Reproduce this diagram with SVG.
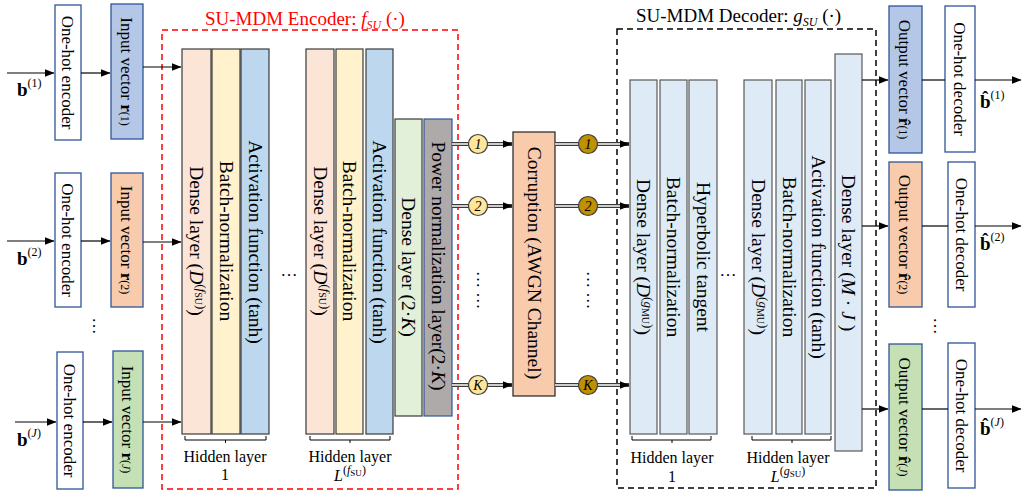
<svg xmlns="http://www.w3.org/2000/svg" width="1022" height="493" viewBox="0 0 1022 493">
<defs>
<marker id="ah" markerWidth="10" markerHeight="8" refX="9.5" refY="4" orient="auto" markerUnits="userSpaceOnUse">
<path d="M0,0 L10,4 L0,8 z" fill="#000"/>
</marker>
<style>
text{font-family:"Liberation Serif","DejaVu Serif",serif}
.t17{font-size:17px;text-anchor:middle}
.lay{font-size:19.5px;text-anchor:middle}
.hl{font-size:16px;text-anchor:middle}
.box{stroke:#2f5597;stroke-width:1.3}
.l{stroke:#000;stroke-width:1.2;fill:none}
.enc{stroke:#3a3a3a;stroke-width:1.2}
.dec{fill:#deebf7;stroke:#595959;stroke-width:1.2}
.i{font-style:italic}
.b{font-weight:bold}
.dbl{stroke:#3a3a3a;stroke-width:4;fill:none}
.dblw{stroke:#fff;stroke-width:1.3;fill:none}
.br{stroke:#000;stroke-width:1;fill:none}
.c1{fill:#ffe699;stroke:#404040;stroke-width:1.2}
.c2{fill:#bf9000;stroke:#404040;stroke-width:1.2}
.ct{font-size:14px;font-style:italic;text-anchor:middle}
</style>
</defs>
<rect width="1022" height="493" fill="#fff"/>

<!-- input side -->
<g id="enc1"><rect x="55" y="5" width="26" height="135" fill="#fff" class="box"/><text class="t17" transform="translate(62.4,72.5) rotate(90)">One-hot encoder</text></g>
<g id="in1"><rect x="111" y="4" width="32" height="135" fill="#b4c7e7" class="box"/><text class="t17" transform="translate(121.4,71.5) rotate(90)">Input vector <tspan class="b">r</tspan><tspan font-size="12">(1)</tspan></text></g>
<g id="enc2"><rect x="55" y="173" width="26" height="134" fill="#fff" class="box"/><text class="t17" transform="translate(62.4,240) rotate(90)">One-hot encoder</text></g>
<g id="in2"><rect x="111" y="173" width="32" height="134" fill="#f8cbad" class="box"/><text class="t17" transform="translate(121.4,240) rotate(90)">Input vector <tspan class="b">r</tspan><tspan font-size="12">(2)</tspan></text></g>
<g id="encJ"><rect x="57" y="352" width="26" height="137" fill="#fff" class="box"/><text class="t17" transform="translate(64.4,420.5) rotate(90)">One-hot encoder</text></g>
<g id="inJ"><rect x="113" y="351" width="30" height="137" fill="#c5e0b4" class="box"/><text class="t17" transform="translate(122.4,419.5) rotate(90)">Input vector <tspan class="b">r</tspan><tspan font-size="12">(<tspan class="i">J</tspan>)</tspan></text></g>
<g id="lbl-in">
<text x="17" y="96" font-size="19" class="b">b<tspan font-size="12" font-weight="normal" dy="-9">(1)</tspan></text>
<text x="17" y="265" font-size="19" class="b">b<tspan font-size="12" font-weight="normal" dy="-9">(2)</tspan></text>
<text x="17" y="446" font-size="19" class="b">b<tspan font-size="12" font-weight="normal" dy="-9">(<tspan class="i">J</tspan>)</tspan></text>
<text font-size="17" text-anchor="middle" transform="translate(93,326) rotate(90)">…</text>
</g>

<!-- encoder -->
<g id="encoder">
<rect x="162" y="30" width="296" height="459" fill="none" stroke="#ff0000" stroke-width="1.5" stroke-dasharray="6,4"/>
<text x="205" y="25" font-size="19" fill="#ff0000">SU-MDM Encoder: <tspan class="i">f</tspan><tspan class="i" font-size="12" dy="4">SU</tspan><tspan dy="-4"> (·)</tspan></text>
</g>
<g id="enc-h1">
<rect x="182" y="49" width="29" height="385" fill="#fbe5d6" class="enc"/>
<rect x="212" y="49" width="28" height="385" fill="#fff2cc" class="enc"/>
<rect x="241" y="49" width="28" height="385" fill="#bdd7ee" class="enc"/>
<text class="lay" transform="translate(190.2,241) rotate(90)">Dense layer (<tspan class="i">D</tspan><tspan font-size="13" dy="-7">(<tspan class="i">f</tspan><tspan font-size="10" dy="2">SU</tspan><tspan dy="-2">)</tspan></tspan><tspan dy="7">)</tspan></text>
<text class="lay" transform="translate(219.7,241) rotate(90)">Batch-normalization</text>
<text class="lay" transform="translate(248.7,242) rotate(90)">Activation function (tanh)</text>
<path class="br" d="M185,436 V440 H266 V436 M225.5,440 V443"/>
<text class="hl" x="225" y="462">Hidden layer</text>
<text class="hl" x="225" y="480">1</text>
</g>
<text font-size="17" text-anchor="middle" x="289" y="276">…</text>
<g id="enc-hL">
<rect x="306" y="49" width="28" height="385" fill="#fbe5d6" class="enc"/>
<rect x="336" y="49" width="27" height="385" fill="#fff2cc" class="enc"/>
<rect x="366" y="49" width="27" height="385" fill="#bdd7ee" class="enc"/>
<text class="lay" transform="translate(313.7,241) rotate(90)">Dense layer (<tspan class="i">D</tspan><tspan font-size="13" dy="-7">(<tspan class="i">f</tspan><tspan font-size="10" dy="2">SU</tspan><tspan dy="-2">)</tspan></tspan><tspan dy="7">)</tspan></text>
<text class="lay" transform="translate(343.2,241) rotate(90)">Batch-normalization</text>
<text class="lay" transform="translate(373.2,242) rotate(90)">Activation function (tanh)</text>
<path class="br" d="M310,436 V440 H390 V436 M350,440 V443"/>
<text class="hl" x="350" y="462">Hidden layer</text>
<text class="hl" x="350" y="481"><tspan class="i">L</tspan><tspan font-size="12" dy="-7">(<tspan class="i">f</tspan><tspan font-size="9" dy="2">SU</tspan><tspan dy="-2">)</tspan></tspan></text>
</g>
<g id="enc-dense2k">
<rect x="395" y="119" width="27" height="297" fill="#e2f0d9" class="enc"/>
<text class="lay" transform="translate(402.2,267) rotate(90)">Dense layer (2·<tspan class="i">K</tspan>)</text>
</g>
<g id="enc-power">
<rect x="424" y="119" width="28" height="297" fill="#aeaaaa" stroke="#2f5597" stroke-width="1.2"/>
<text class="lay" transform="translate(431.7,266) rotate(90)">Power normalization layer(2·<tspan class="i">K</tspan>)</text>
</g>

<!-- channel -->
<g id="corruption">
<rect x="513" y="132" width="42" height="264" fill="#f8cbad" stroke="#222" stroke-width="1.2"/>
<text class="lay" transform="translate(527.6,263) rotate(90)">Corruption (AWGN Channel)</text>
</g>

<!-- decoder -->
<g id="decoder">
<rect x="617" y="29" width="259" height="459" fill="none" stroke="#000" stroke-width="1.5" stroke-dasharray="6,4"/>
<text x="636" y="22" font-size="19">SU-MDM Decoder: <tspan class="i">g</tspan><tspan class="i" font-size="12" dy="4">SU</tspan><tspan dy="-4"> (·)</tspan></text>
</g>
<g id="dec-h1">
<rect x="630" y="80" width="27" height="354" class="dec"/>
<rect x="660" y="80" width="27" height="354" class="dec"/>
<rect x="689" y="80" width="28" height="354" class="dec"/>
<text class="lay" transform="translate(637.1,257) rotate(90)">Dense layer (<tspan class="i">D</tspan><tspan font-size="13" dy="-7">(<tspan class="i">g</tspan><tspan font-size="10" dy="2">MU</tspan><tspan dy="-2">)</tspan></tspan><tspan dy="7">)</tspan></text>
<text class="lay" transform="translate(667.1,257) rotate(90)">Batch-normalization</text>
<text class="lay" transform="translate(696.6,257) rotate(90)">Hyperbolic tangent</text>
<path class="br" d="M632,436 V440 H711 V436 M672,440 V443"/>
<text class="hl" x="672" y="463">Hidden layer</text>
<text class="hl" x="672" y="482">1</text>
</g>
<text font-size="17" text-anchor="middle" x="728" y="276">…</text>
<g id="dec-hL">
<rect x="744" y="80" width="28" height="354" class="dec"/>
<rect x="776" y="80" width="26" height="354" class="dec"/>
<rect x="805" y="80" width="26" height="354" class="dec"/>
<text class="lay" transform="translate(751.6,257) rotate(90)">Dense layer (<tspan class="i">D</tspan><tspan font-size="13" dy="-7">(<tspan class="i">g</tspan><tspan font-size="10" dy="2">MU</tspan><tspan dy="-2">)</tspan></tspan><tspan dy="7">)</tspan></text>
<text class="lay" transform="translate(782.6,257) rotate(90)">Batch-normalization</text>
<text class="lay" transform="translate(811.6,257) rotate(90)">Activation function (tanh)</text>
<path class="br" d="M752,436 V440 H831 V436 M792,440 V443"/>
<text class="hl" x="788" y="463">Hidden layer</text>
<text class="hl" x="788" y="482"><tspan class="i">L</tspan><tspan font-size="12" dy="-7">(<tspan class="i">g</tspan><tspan font-size="9" dy="2">SU</tspan><tspan dy="-2">)</tspan></tspan></text>
</g>
<g id="dec-densemj">
<rect x="835" y="54" width="27" height="397" class="dec"/>
<text class="lay" transform="translate(842.1,253) rotate(90)">Dense layer (<tspan class="i">M</tspan> · <tspan class="i">J</tspan> )</text>
</g>

<!-- output side -->
<g id="out1"><rect x="889" y="6" width="33" height="147" fill="#b4c7e7" class="box"/><text class="t17" transform="translate(899.1,79.5) rotate(90)">Output vector  <tspan class="b">r&#x302;</tspan><tspan font-size="12">(1)</tspan></text></g>
<g id="dec1"><rect x="945" y="6" width="30" height="146" fill="#fff" class="box"/><text class="t17" transform="translate(954.4,79) rotate(90)">One-hot decoder</text></g>
<g id="out2"><rect x="889" y="162" width="33" height="145" fill="#f8cbad" class="box"/><text class="t17" transform="translate(899.1,234.5) rotate(90)">Output vector  <tspan class="b">r&#x302;</tspan><tspan font-size="12">(2)</tspan></text></g>
<g id="dec2"><rect x="948" y="162" width="27" height="145" fill="#fff" class="box"/><text class="t17" transform="translate(955.9,234.5) rotate(90)">One-hot decoder</text></g>
<g id="outJ"><rect x="889" y="344" width="33" height="146" fill="#c5e0b4" class="box"/><text class="t17" transform="translate(899.1,417) rotate(90)">Output vector  <tspan class="b">r&#x302;</tspan><tspan font-size="12">(<tspan class="i">J</tspan>)</tspan></text></g>
<g id="decJ"><rect x="948" y="343" width="27" height="145" fill="#fff" class="box"/><text class="t17" transform="translate(955.9,415.5) rotate(90)">One-hot decoder</text></g>
<g id="lbl-out">
<text x="980" y="108" font-size="19" class="b">b&#x302;<tspan font-size="12" font-weight="normal" dy="-9">(1)</tspan></text>
<text x="980" y="250" font-size="19" class="b">b&#x302;<tspan font-size="12" font-weight="normal" dy="-9">(2)</tspan></text>
<text x="980" y="435" font-size="19" class="b">b&#x302;<tspan font-size="12" font-weight="normal" dy="-9">(<tspan class="i">J</tspan>)</tspan></text>
<text font-size="17" text-anchor="middle" transform="translate(934,326) rotate(90)">…</text>
</g>

<!-- connectors -->
<g id="connectors">
<line class="l" x1="7" y1="73" x2="54" y2="73" marker-end="url(#ah)"/>
<line class="l" x1="81" y1="73" x2="110" y2="73" marker-end="url(#ah)"/>
<line class="l" x1="143" y1="67" x2="181" y2="67" marker-end="url(#ah)"/>
<line class="l" x1="7" y1="241" x2="54" y2="241" marker-end="url(#ah)"/>
<line class="l" x1="81" y1="241" x2="110" y2="241" marker-end="url(#ah)"/>
<line class="l" x1="143" y1="242" x2="181" y2="242" marker-end="url(#ah)"/>
<line class="l" x1="15" y1="422" x2="56" y2="422" marker-end="url(#ah)"/>
<line class="l" x1="83" y1="422" x2="112" y2="422" marker-end="url(#ah)"/>
<line class="l" x1="143" y1="422" x2="181" y2="422" marker-end="url(#ah)"/>

<line class="dbl" x1="452" y1="144" x2="512" y2="144" marker-end="url(#ah)"/>
<line class="dblw" x1="452" y1="144" x2="503" y2="144"/>
<line class="dbl" x1="452" y1="206" x2="512" y2="206" marker-end="url(#ah)"/>
<line class="dblw" x1="452" y1="206" x2="503" y2="206"/>
<line class="dbl" x1="452" y1="385" x2="512" y2="385" marker-end="url(#ah)"/>
<line class="dblw" x1="452" y1="385" x2="503" y2="385"/>
<line class="dbl" x1="555" y1="144" x2="629" y2="144" marker-end="url(#ah)"/>
<line class="dblw" x1="555" y1="144" x2="620" y2="144"/>
<line class="dbl" x1="555" y1="206" x2="629" y2="206" marker-end="url(#ah)"/>
<line class="dblw" x1="555" y1="206" x2="620" y2="206"/>
<line class="dbl" x1="555" y1="385" x2="629" y2="385" marker-end="url(#ah)"/>
<line class="dblw" x1="555" y1="385" x2="620" y2="385"/>

<line class="l" x1="862" y1="80" x2="888" y2="80" marker-end="url(#ah)"/>
<line class="l" x1="922" y1="80" x2="945" y2="80"/>
<line class="l" x1="975" y1="80" x2="1021" y2="80" marker-end="url(#ah)"/>
<line class="l" x1="862" y1="226" x2="888" y2="226" marker-end="url(#ah)"/>
<line class="l" x1="922" y1="226" x2="948" y2="226"/>
<line class="l" x1="975" y1="226" x2="1021" y2="226" marker-end="url(#ah)"/>
<line class="l" x1="862" y1="409" x2="888" y2="409" marker-end="url(#ah)"/>
<line class="l" x1="922" y1="409" x2="948" y2="409"/>
<line class="l" x1="975" y1="409" x2="1021" y2="409" marker-end="url(#ah)"/>
</g>

<g id="streams">
<circle class="c1" cx="478" cy="144" r="9.5"/><text class="ct" x="478" y="149">1</text>
<circle class="c1" cx="478" cy="206" r="9.5"/><text class="ct" x="478" y="211">2</text>
<circle class="c1" cx="478" cy="385" r="9.5"/><text class="ct" x="478" y="390">K</text>
<text font-size="17" text-anchor="middle" transform="translate(476.5,290) rotate(90)">… …</text>
<circle class="c2" cx="588" cy="144" r="9.5"/><text class="ct" x="588" y="149">1</text>
<circle class="c2" cx="588" cy="206" r="9.5"/><text class="ct" x="588" y="211">2</text>
<circle class="c2" cx="588" cy="385" r="9.5"/><text class="ct" x="588" y="390">K</text>
<text font-size="17" text-anchor="middle" transform="translate(586.5,290) rotate(90)">… …</text>
</g>
</svg>
